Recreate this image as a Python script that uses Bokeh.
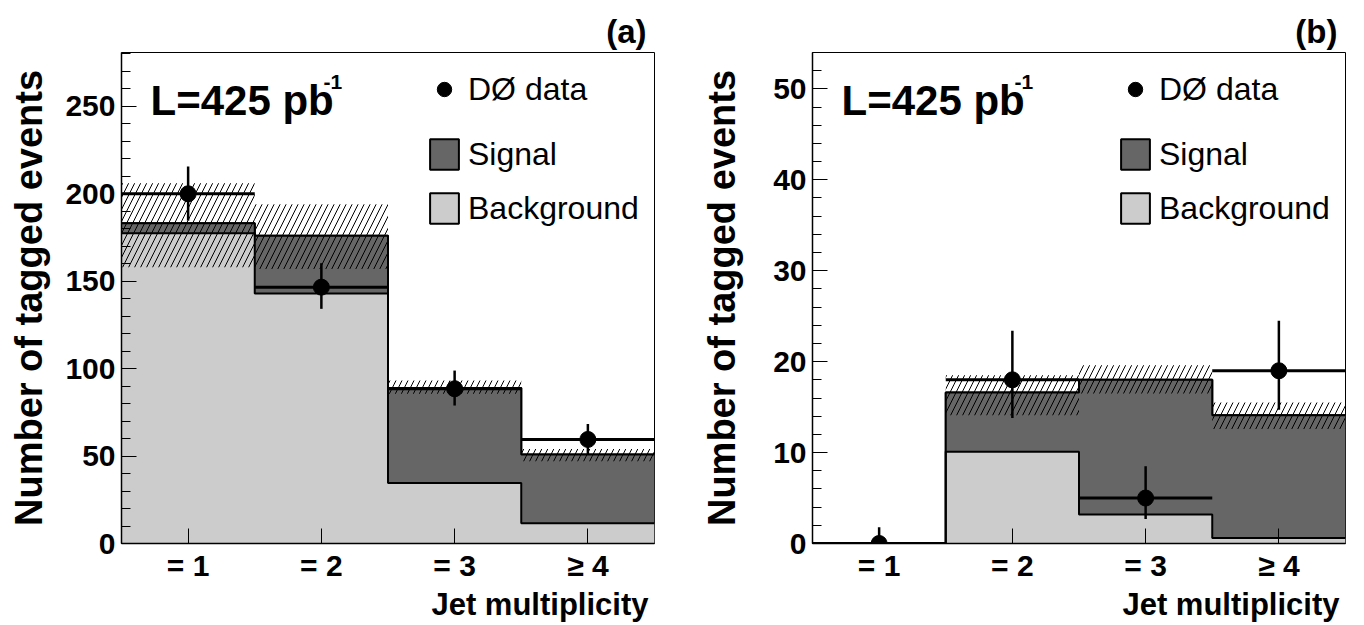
from bokeh.plotting import figure
from bokeh.models import Range1d, FixedTicker, Label, Legend, LegendItem, Title
from bokeh.layouts import row
from bokeh.embed import file_html
from bokeh.resources import INLINE

# ---------------- data ----------------
categories = ["= 1", "= 2", "= 3", "\u2265 4"]
bin_edges = [0, 1, 2, 3, 4]

a_background = [177.5, 143.0, 34.6, 11.6]
a_total = [183.2, 176.0, 89.0, 50.9]
a_band_lo = [158.0, 157.0, 85.6, 47.0]
a_band_hi = [206.0, 194.0, 93.2, 54.1]
a_data = [200.0, 146.6, 88.5, 59.5]
a_err_lo = [184.7, 134.2, 78.9, 51.0]
a_err_hi = [215.6, 160.3, 98.9, 68.4]
a_yticks = [0, 50, 100, 150, 200, 250]

b_background = [0.0, 10.1, 3.2, 0.6]
b_total = [0.0, 16.6, 18.0, 14.1]
b_band_lo = [0.0, 14.1, 16.5, 12.6]
b_band_hi = [0.0, 18.5, 19.6, 15.5]
b_data = [0.0, 18.0, 5.0, 19.0]
b_err_lo = [0.0, 13.8, 2.7, 14.7]
b_err_hi = [1.8, 23.4, 8.5, 24.5]
b_yticks = [0, 10, 20, 30, 40, 50]

lumi_text = "L=425 pb"
lumi_sup = "-1"
FONT = "Liberation Sans"
SIG_COLOR = "#666666"
BKG_COLOR = "#cccccc"


def make_panel(tag, bkg, tot, lo, hi, data, elo, ehi, ymax, yticks, minor_step,
               width, border_left, border_right, ylabel_standoff):
    p = figure(width=width, height=625, x_range=Range1d(0, 4), y_range=Range1d(0, ymax),
               output_backend="svg", toolbar_location=None,
               min_border_left=border_left, min_border_right=border_right,
               min_border_top=52, min_border_bottom=82)
    p.xgrid.visible = False
    p.ygrid.visible = False
    p.outline_line_color = "black"
    p.outline_line_width = 1

    left = bin_edges[:-1]
    right = bin_edges[1:]
    centers = [(l + r) / 2 for l, r in zip(left, right)]

    # legend proxies: same boxes with outline, drawn first and covered by the fills
    bkg_proxy = p.quad(left=left, right=right, bottom=0, top=bkg, fill_color=BKG_COLOR,
                       line_color="black", line_width=2)
    sig_proxy = p.quad(left=left, right=right, bottom=bkg, top=tot, fill_color=SIG_COLOR,
                       line_color="black", line_width=2)

    bkg_step = list(bkg) + [bkg[-1]]
    tot_step = list(tot) + [tot[-1]]
    p.varea_step(x=bin_edges, y1=[0] * len(bin_edges), y2=bkg_step, step_mode="after",
                 fill_color=BKG_COLOR)
    p.varea_step(x=bin_edges, y1=bkg_step, y2=tot_step, step_mode="after",
                 fill_color=SIG_COLOR)
    p.quad(left=left, right=right, bottom=lo, top=hi, fill_color=None, line_color=None,
           hatch_pattern="/", hatch_color="black", hatch_scale=12, hatch_weight=1)
    p.step(x=bin_edges, y=bkg_step, mode="after", line_color="black", line_width=2)
    p.step(x=bin_edges, y=tot_step, mode="after", line_color="black", line_width=2)

    p.segment(x0=left, x1=right, y0=data, y1=data, line_color="black", line_width=3)
    p.segment(x0=centers, x1=centers, y0=elo, y1=ehi, line_color="black", line_width=2.5)
    pts = p.scatter(x=centers, y=data, size=16, marker="circle", fill_color="black", line_color="black")

    common = dict(glyph_width=36, glyph_height=38, label_text_font=FONT,
                  label_text_font_size="32px", label_text_color="black", label_standoff=6,
                  spacing=16, padding=0, margin=0, border_line_color=None,
                  background_fill_alpha=0)
    leg1 = Legend(items=[LegendItem(label="D\u00d8 data", renderers=[pts])],
                  location=(305, 435), **common)
    leg2 = Legend(items=[LegendItem(label="Signal", renderers=[sig_proxy]),
                         LegendItem(label="Background", renderers=[bkg_proxy])],
                  location=(305, 316), **common)
    p.add_layout(leg1)
    p.add_layout(leg2)

    # axes
    p.yaxis.ticker = FixedTicker(ticks=yticks,
                                 minor_ticks=[i * minor_step for i in range(int(ymax / minor_step) + 1)])
    p.yaxis.major_tick_in = 15
    p.yaxis.major_tick_out = 0
    p.yaxis.minor_tick_in = 9
    p.yaxis.minor_tick_out = 0
    p.yaxis.axis_line_color = "black"
    p.yaxis.axis_line_width = 1.5
    p.yaxis.major_label_text_font = FONT
    p.yaxis.major_label_text_font_size = "30px"
    p.yaxis.major_label_text_font_style = "bold"
    p.yaxis.major_label_text_color = "black"
    p.yaxis.major_label_standoff = 6
    p.yaxis.axis_label = "Number of tagged events"
    p.yaxis.axis_label_text_font = FONT
    p.yaxis.axis_label_text_font_size = "38px"
    p.yaxis.axis_label_text_font_style = "bold"
    p.yaxis.axis_label_text_color = "black"
    p.yaxis.axis_label_standoff = ylabel_standoff

    p.xaxis.ticker = FixedTicker(ticks=centers)
    p.xaxis.major_label_overrides = {c: lab for c, lab in zip(centers, categories)}
    p.xaxis.major_tick_in = 15
    p.xaxis.major_tick_out = 0
    p.xaxis.minor_tick_line_color = None
    p.xaxis.axis_line_color = "black"
    p.xaxis.axis_line_width = 1.5
    p.xaxis.major_label_text_font = FONT
    p.xaxis.major_label_text_font_size = "30px"
    p.xaxis.major_label_text_font_style = "bold"
    p.xaxis.major_label_text_color = "black"
    p.xaxis.major_label_standoff = 5

    # texts
    p.add_layout(Label(x=29, y=443, x_units="screen", y_units="screen", text=lumi_text,
                       text_font=FONT, text_font_size="42px", text_font_style="bold",
                       text_baseline="alphabetic", text_color="black"))
    p.add_layout(Label(x=202, y=462, x_units="screen", y_units="screen", text=lumi_sup,
                       text_font=FONT, text_font_size="21px", text_font_style="bold",
                       text_baseline="alphabetic", text_color="black"))
    p.add_layout(Title(text=tag, align="right", offset=8, standoff=6,
                       text_font=FONT, text_font_size="33px", text_font_style="bold",
                       text_color="black"), "above")
    p.add_layout(Title(text="Jet multiplicity", align="right", offset=6, standoff=0,
                       text_font=FONT, text_font_size="31px", text_font_style="bold",
                       text_color="black"), "below")
    return p


pa = make_panel("(a)", a_background, a_total, a_band_lo, a_band_hi, a_data, a_err_lo, a_err_hi,
                280.8, a_yticks, 10, 680, 121, 26, 12)
pb = make_panel("(b)", b_background, b_total, b_band_lo, b_band_hi, b_data, b_err_lo, b_err_hi,
                54.0, b_yticks, 2, 684, 132, 19, 27)

layout = row(pa, pb)
open("out.html", "w").write(file_html(layout, INLINE))
